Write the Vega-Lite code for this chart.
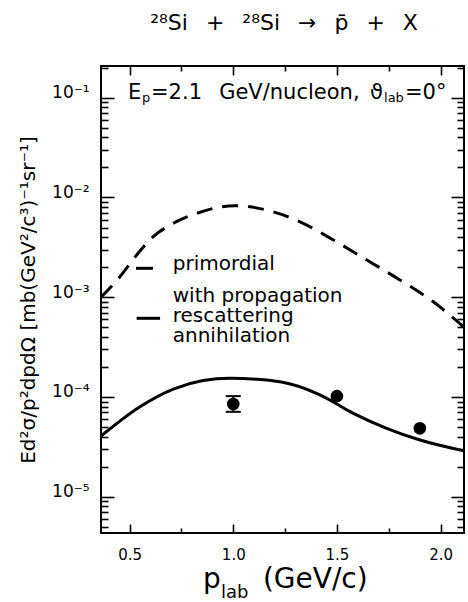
{
  "$schema": "https://vega.github.io/schema/vega-lite/v6.json",
  "width": 363,
  "height": 467,
  "autosize": {"type": "none"},
  "padding": {"left": 101, "top": 66, "right": 4, "bottom": 69},
  "background": "white",
  "config": {
    "font": "DejaVu Sans",
    "view": {"stroke": "black", "strokeWidth": 2},
    "axis": {
      "domain": false,
      "grid": false,
      "tickColor": "black",
      "tickWidth": 1.6,
      "labelColor": "black",
      "labelFont": "DejaVu Sans",
      "labelFontSize": 15,
      "labelOverlap": false,
      "labelFlush": false,
      "titleColor": "black",
      "titleFont": "DejaVu Sans",
      "titleFontWeight": "normal"
    },
    "text": {"font": "DejaVu Sans", "color": "black", "align": "left", "baseline": "alphabetic"}
  },
  "datasets": {
    "primordial": [
      {"p": 0.362, "v": 0.00100},
      {"p": 0.454, "v": 0.00161},
      {"p": 0.534, "v": 0.00265},
      {"p": 0.614, "v": 0.00405},
      {"p": 0.711, "v": 0.00551},
      {"p": 0.824, "v": 0.00693},
      {"p": 0.92, "v": 0.00790},
      {"p": 1.008, "v": 0.00827},
      {"p": 1.161, "v": 0.00748},
      {"p": 1.322, "v": 0.00571},
      {"p": 1.483, "v": 0.00375},
      {"p": 1.644, "v": 0.00236},
      {"p": 1.804, "v": 0.00149},
      {"p": 1.965, "v": 0.00090},
      {"p": 2.113, "v": 0.00050}
    ],
    "propagation": [
      {"p": 0.362, "v": 0.0000406},
      {"p": 0.55, "v": 0.0000798},
      {"p": 0.711, "v": 0.000120},
      {"p": 0.855, "v": 0.000146},
      {"p": 0.984, "v": 0.000154},
      {"p": 1.225, "v": 0.000142},
      {"p": 1.418, "v": 0.000105},
      {"p": 1.579, "v": 0.0000686},
      {"p": 1.74, "v": 0.0000485},
      {"p": 1.901, "v": 0.0000370},
      {"p": 2.113, "v": 0.0000288}
    ],
    "measured": [
      {"p": 1.0, "v": 0.000085},
      {"p": 1.5, "v": 0.000102},
      {"p": 1.9, "v": 0.0000485}
    ],
    "errors": [
      {"p": 1.0, "lo": 0.000071, "hi": 0.000102}
    ]
  },
  "layer": [
    {
      "data": {"name": "primordial"},
      "mark": {"type": "line", "color": "black", "strokeWidth": 3, "strokeDash": [16, 10], "interpolate": "monotone"},
      "encoding": {
        "x": {
          "field": "p", "type": "quantitative",
          "scale": {"domain": [0.362, 2.113], "nice": false, "zero": false},
          "axis": {"orient": "bottom", "values": [0.5, 1.0, 1.5, 2.0], "format": ".1f", "ticks": false, "labelPadding": 14, "title": null}
        },
        "y": {
          "field": "v", "type": "quantitative",
          "scale": {"type": "log", "domain": [0.00000433, 0.208], "nice": false},
          "axis": {
            "orient": "left",
            "values": [0.00001, 0.0001, 0.001, 0.01, 0.1],
            "ticks": false,
            "labelExpr": "['10⁻⁵','10⁻⁴','10⁻³','10⁻²','10⁻¹'][round(log(datum.value)/LN10) + 5]",
            "labelFontSize": 17,
            "labelBaseline": "alphabetic",
            "labelPadding": 12,
            "title": "Ed²σ/p²dpdΩ  [mb(GeV²/c³)⁻¹sr⁻¹]",
            "titleFontSize": 20,
            "titlePadding": 13
          }
        }
      }
    },
    {
      "data": {"name": "propagation"},
      "mark": {"type": "line", "color": "black", "strokeWidth": 3, "interpolate": "monotone"},
      "encoding": {
        "x": {
          "field": "p", "type": "quantitative",
          "scale": {"domain": [0.362, 2.113], "nice": false, "zero": false},
          "axis": {"orient": "bottom", "values": [0.5, 1.0, 1.5, 2.0], "tickSize": -9, "labels": false, "title": null}
        },
        "y": {
          "field": "v", "type": "quantitative",
          "scale": {"type": "log", "domain": [0.00000433, 0.208], "nice": false},
          "axis": {"orient": "left", "values": [0.00001, 0.0001, 0.001, 0.01, 0.1], "tickSize": -13, "labels": false, "title": null}
        }
      }
    },
    {
      "data": {"name": "errors"},
      "mark": {"type": "rule", "color": "black", "strokeWidth": 2},
      "encoding": {
        "x": {
          "field": "p", "type": "quantitative",
          "scale": {"domain": [0.362, 2.113], "nice": false, "zero": false},
          "axis": {"orient": "bottom", "values": [0.75, 1.25, 1.75], "tickSize": -5, "labels": false, "title": null}
        },
        "y": {
          "field": "lo", "type": "quantitative",
          "scale": {"type": "log", "domain": [0.00000433, 0.208], "nice": false},
          "axis": {
            "orient": "left",
            "values": [0.000005, 0.000006, 0.000007, 0.000008, 0.000009, 0.00002, 0.00003, 0.00004, 0.00005, 0.00006, 0.00007, 0.00008, 0.00009, 0.0002, 0.0003, 0.0004, 0.0005, 0.0006, 0.0007, 0.0008, 0.0009, 0.002, 0.003, 0.004, 0.005, 0.006, 0.007, 0.008, 0.009, 0.02, 0.03, 0.04, 0.05, 0.06, 0.07, 0.08, 0.09, 0.2],
            "tickCount": 100,
            "tickSize": -7, "labels": false, "title": null
          }
        },
        "y2": {"field": "hi"}
      }
    },
    {
      "data": {"name": "errors"},
      "transform": [{"fold": ["lo", "hi"], "as": ["end", "bound"]}],
      "mark": {"type": "tick", "color": "black", "orient": "horizontal", "size": 15, "thickness": 2, "opacity": 1},
      "encoding": {
        "x": {
          "field": "p", "type": "quantitative",
          "scale": {"domain": [0.362, 2.113], "nice": false, "zero": false},
          "axis": {"orient": "top", "values": [0.5, 1.0, 1.5, 2.0], "tickSize": -9, "labels": false, "title": null}
        },
        "y": {
          "field": "bound", "type": "quantitative",
          "scale": {"type": "log", "domain": [0.00000433, 0.208], "nice": false},
          "axis": {"orient": "right", "values": [0.00001, 0.0001, 0.001, 0.01, 0.1], "tickSize": -13, "labels": false, "title": null}
        }
      }
    },
    {
      "data": {"name": "measured"},
      "mark": {"type": "circle", "color": "black", "size": 160, "opacity": 1},
      "encoding": {
        "x": {
          "field": "p", "type": "quantitative",
          "scale": {"domain": [0.362, 2.113], "nice": false, "zero": false},
          "axis": {"orient": "top", "values": [0.75, 1.25, 1.75], "tickSize": -5, "labels": false, "title": null}
        },
        "y": {
          "field": "v", "type": "quantitative",
          "scale": {"type": "log", "domain": [0.00000433, 0.208], "nice": false},
          "axis": {
            "orient": "right",
            "values": [0.000005, 0.000006, 0.000007, 0.000008, 0.000009, 0.00002, 0.00003, 0.00004, 0.00005, 0.00006, 0.00007, 0.00008, 0.00009, 0.0002, 0.0003, 0.0004, 0.0005, 0.0006, 0.0007, 0.0008, 0.0009, 0.002, 0.003, 0.004, 0.005, 0.006, 0.007, 0.008, 0.009, 0.02, 0.03, 0.04, 0.05, 0.06, 0.07, 0.08, 0.09, 0.2],
            "tickCount": 100,
            "tickSize": -7, "labels": false, "title": null
          }
        }
      }
    },
    {
      "data": {"values": [{}]},
      "mark": {"type": "rule", "color": "black", "strokeWidth": 3},
      "encoding": {
        "x": {"datum": 0.531, "type": "quantitative", "axis": null},
        "x2": {"datum": 0.613},
        "y": {"datum": 0.00195, "type": "quantitative", "axis": null}
      }
    },
    {
      "data": {"values": [{}]},
      "mark": {"type": "rule", "color": "black", "strokeWidth": 3},
      "encoding": {
        "x": {"datum": 0.534, "type": "quantitative", "axis": null},
        "x2": {"datum": 0.647},
        "y": {"datum": 0.000615, "type": "quantitative", "axis": null}
      }
    },
    {
      "data": {"values": [{}]},
      "mark": {"type": "text", "text": "²⁸Si \u2002+ \u2002²⁸Si \u2002→ \u2002p\u0304 \u2002+ \u2002X", "fontSize": 22, "align": "center"},
      "encoding": {
        "x": {"datum": 1.245, "type": "quantitative", "axis": null},
        "y": {"datum": 0.478, "type": "quantitative", "axis": null}
      }
    },
    {
      "data": {"values": [{}]},
      "mark": {"type": "text", "text": "primordial", "fontSize": 20},
      "encoding": {
        "x": {"datum": 0.708, "type": "quantitative", "axis": null},
        "y": {"datum": 0.00187, "type": "quantitative", "axis": null}
      }
    },
    {
      "data": {"values": [{}]},
      "mark": {"type": "text", "text": "with propagation", "fontSize": 20},
      "encoding": {
        "x": {"datum": 0.708, "type": "quantitative", "axis": null},
        "y": {"datum": 0.000895, "type": "quantitative", "axis": null}
      }
    },
    {
      "data": {"values": [{}]},
      "mark": {"type": "text", "text": "rescattering", "fontSize": 20},
      "encoding": {
        "x": {"datum": 0.708, "type": "quantitative", "axis": null},
        "y": {"datum": 0.000569, "type": "quantitative", "axis": null}
      }
    },
    {
      "data": {"values": [{}]},
      "mark": {"type": "text", "text": "annihilation", "fontSize": 20},
      "encoding": {
        "x": {"datum": 0.708, "type": "quantitative", "axis": null},
        "y": {"datum": 0.000358, "type": "quantitative", "axis": null}
      }
    },
    {
      "data": {"values": [{}]},
      "mark": {"type": "text", "text": "E", "fontSize": 21},
      "encoding": {
        "x": {"datum": 0.4922, "type": "quantitative", "axis": null},
        "y": {"datum": 0.097, "type": "quantitative", "axis": null}
      }
    },
    {
      "data": {"values": [{}]},
      "mark": {"type": "text", "text": "p", "fontSize": 13},
      "encoding": {
        "x": {"datum": 0.5598, "type": "quantitative", "axis": null},
        "y": {"datum": 0.0906, "type": "quantitative", "axis": null}
      }
    },
    {
      "data": {"values": [{}]},
      "mark": {"type": "text", "text": "=2.1 \u2002GeV/nucleon,", "fontSize": 21},
      "encoding": {
        "x": {"datum": 0.6032, "type": "quantitative", "axis": null},
        "y": {"datum": 0.097, "type": "quantitative", "axis": null}
      }
    },
    {
      "data": {"values": [{}]},
      "mark": {"type": "text", "text": "ϑ", "fontSize": 21},
      "encoding": {
        "x": {"datum": 1.6596, "type": "quantitative", "axis": null},
        "y": {"datum": 0.097, "type": "quantitative", "axis": null}
      }
    },
    {
      "data": {"values": [{}]},
      "mark": {"type": "text", "text": "lab", "fontSize": 13},
      "encoding": {
        "x": {"datum": 1.7272, "type": "quantitative", "axis": null},
        "y": {"datum": 0.0906, "type": "quantitative", "axis": null}
      }
    },
    {
      "data": {"values": [{}]},
      "mark": {"type": "text", "text": "=0°", "fontSize": 21},
      "encoding": {
        "x": {"datum": 1.8285, "type": "quantitative", "axis": null},
        "y": {"datum": 0.097, "type": "quantitative", "axis": null}
      }
    },
    {
      "data": {"values": [{}]},
      "mark": {"type": "text", "text": "p", "fontSize": 28},
      "encoding": {
        "x": {"datum": 0.854, "type": "quantitative", "axis": null},
        "y": {"datum": 0.000001216, "type": "quantitative", "axis": null}
      }
    },
    {
      "data": {"values": [{}]},
      "mark": {"type": "text", "text": "lab", "fontSize": 18},
      "encoding": {
        "x": {"datum": 0.941, "type": "quantitative", "axis": null},
        "y": {"datum": 0.000000966, "type": "quantitative", "axis": null}
      }
    },
    {
      "data": {"values": [{}]},
      "mark": {"type": "text", "text": "(GeV/c)", "fontSize": 28},
      "encoding": {
        "x": {"datum": 1.143, "type": "quantitative", "axis": null},
        "y": {"datum": 0.000001216, "type": "quantitative", "axis": null}
      }
    }
  ],
  "resolve": {"axis": {"x": "independent", "y": "independent"}}
}
